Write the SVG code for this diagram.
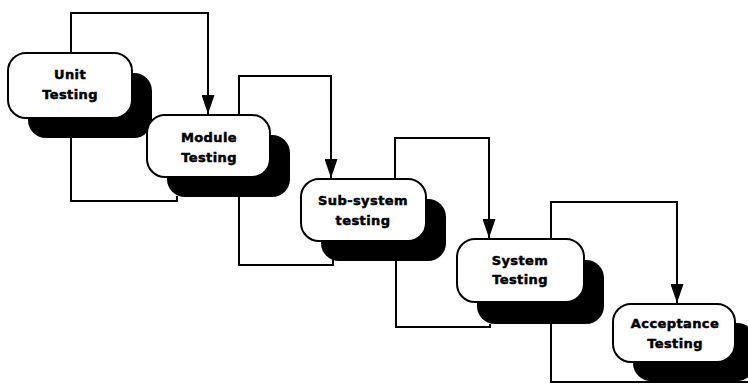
<svg xmlns="http://www.w3.org/2000/svg" width="748" height="389" viewBox="0 0 748 389">
<style>
.box{fill:#fff;stroke:#000;stroke-width:2}
.shadow{fill:#000}
.lbl{font-family:"DejaVu Sans","Liberation Sans",sans-serif;font-weight:bold;font-size:13px;letter-spacing:0.4px;fill:#000;stroke:#000;stroke-width:0.5;text-anchor:middle}
.conn{fill:none;stroke:#000;stroke-width:2}
</style>
<defs>
<marker id="arr" markerUnits="userSpaceOnUse" markerWidth="19" markerHeight="13" refX="19" refY="6.5" orient="auto">
<path d="M0,0 L19,6.5 L0,13 z" fill="#000"/>
</marker>
</defs>
<rect width="748" height="389" fill="#fff"/>
<g id="connectors">
<path class="conn" d="M71,53 V13 H208 V114" marker-end="url(#arr)"/>
<path class="conn" d="M71,137 V201 H177 V196"/>
<path class="conn" d="M239,115 V76 H331 V178" marker-end="url(#arr)"/>
<path class="conn" d="M239,197 V265 H333 V260"/>
<path class="conn" d="M395,179 V138 H489 V238" marker-end="url(#arr)"/>
<path class="conn" d="M396,261 V327 H490 V324"/>
<path class="conn" d="M551,239 V202 H677 V303" marker-end="url(#arr)"/>
<path class="conn" d="M551,324 V382 H748"/>
</g>
<g id="unit">
<rect class="shadow" x="28" y="73" width="124" height="65" rx="18"/>
<rect class="box" x="8" y="53" width="124" height="65" rx="18"/>
<text class="lbl" x="70" y="79">Unit</text>
<text class="lbl" x="70" y="99">Testing</text>
</g>
<g id="module">
<rect class="shadow" x="167" y="135" width="123" height="62" rx="18"/>
<rect class="box" x="147" y="115" width="123" height="62" rx="18"/>
<text class="lbl" x="209" y="142">Module</text>
<text class="lbl" x="209" y="162">Testing</text>
</g>
<g id="subsystem">
<rect class="shadow" x="321" y="199" width="125" height="62" rx="18"/>
<rect class="box" x="301" y="179" width="125" height="62" rx="18"/>
<text class="lbl" x="363" y="205">Sub-system</text>
<text class="lbl" x="363" y="225">testing</text>
</g>
<g id="system">
<rect class="shadow" x="477" y="260" width="127" height="64" rx="18"/>
<rect class="box" x="457" y="239" width="127" height="63" rx="18"/>
<text class="lbl" x="520" y="265">System</text>
<text class="lbl" x="520" y="284">Testing</text>
</g>
<g id="acceptance">
<rect class="shadow" x="633" y="323" width="122" height="58" rx="18"/>
<rect class="box" x="613" y="304" width="122" height="58" rx="18"/>
<text class="lbl" x="675" y="328">Acceptance</text>
<text class="lbl" x="675" y="348">Testing</text>
</g>
</svg>
